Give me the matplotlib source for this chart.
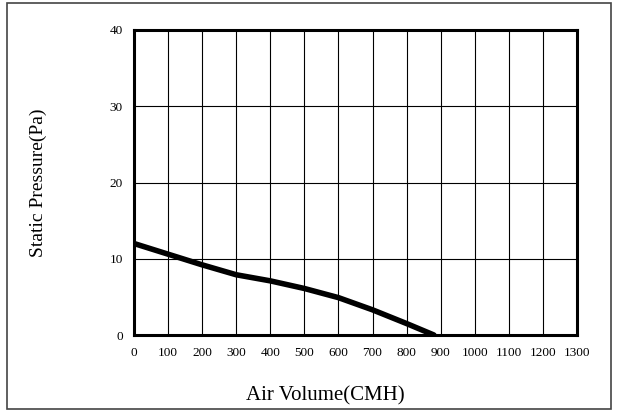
import matplotlib
matplotlib.use("Agg")
import matplotlib.pyplot as plt
from matplotlib.patches import Rectangle

air_volume = [0, 100, 200, 300, 400, 500, 600, 700, 800, 880]
static_pressure = [12.0, 10.6, 9.2, 7.9, 7.1, 6.1, 4.9, 3.3, 1.5, 0.0]
x_ticks = list(range(0, 1301, 100))
y_ticks = [0, 10, 20, 30, 40]

plt.rcParams['font.family'] = ['Liberation Serif', 'DejaVu Serif']

fig = plt.figure(figsize=(6.18, 4.12), dpi=100)
fig.patches.append(Rectangle((7/618, 3/412), 604/618, 406/412, transform=fig.transFigure,
                             fill=False, edgecolor='#444444', linewidth=1.2))
ax = fig.add_axes([134/618, 1-335/412, 443/618, 305/412])
ax.plot(air_volume, static_pressure, color='black', linewidth=4.0, solid_capstyle='round')
ax.set_xlim(0, 1300)
ax.set_ylim(0, 40)
ax.set_xticks(x_ticks)
ax.set_yticks(y_ticks)
ax.grid(True, color='black', linewidth=0.8)
ax.set_axisbelow(True)
for s in ax.spines.values():
    s.set_linewidth(2.2)
ax.tick_params(length=0, labelsize=9.5)
ax.tick_params(axis='x', pad=9)
ax.tick_params(axis='y', pad=8)
ax.set_xlabel('Air Volume(CMH)', fontsize=15)
ax.xaxis.set_label_coords(0.431, -61/305, transform=ax.transAxes)
ax.xaxis.label.set_va('center')
ax.set_ylabel('Static Pressure(Pa)', fontsize=14, labelpad=45)
fig.savefig('out.png', dpi=100)
